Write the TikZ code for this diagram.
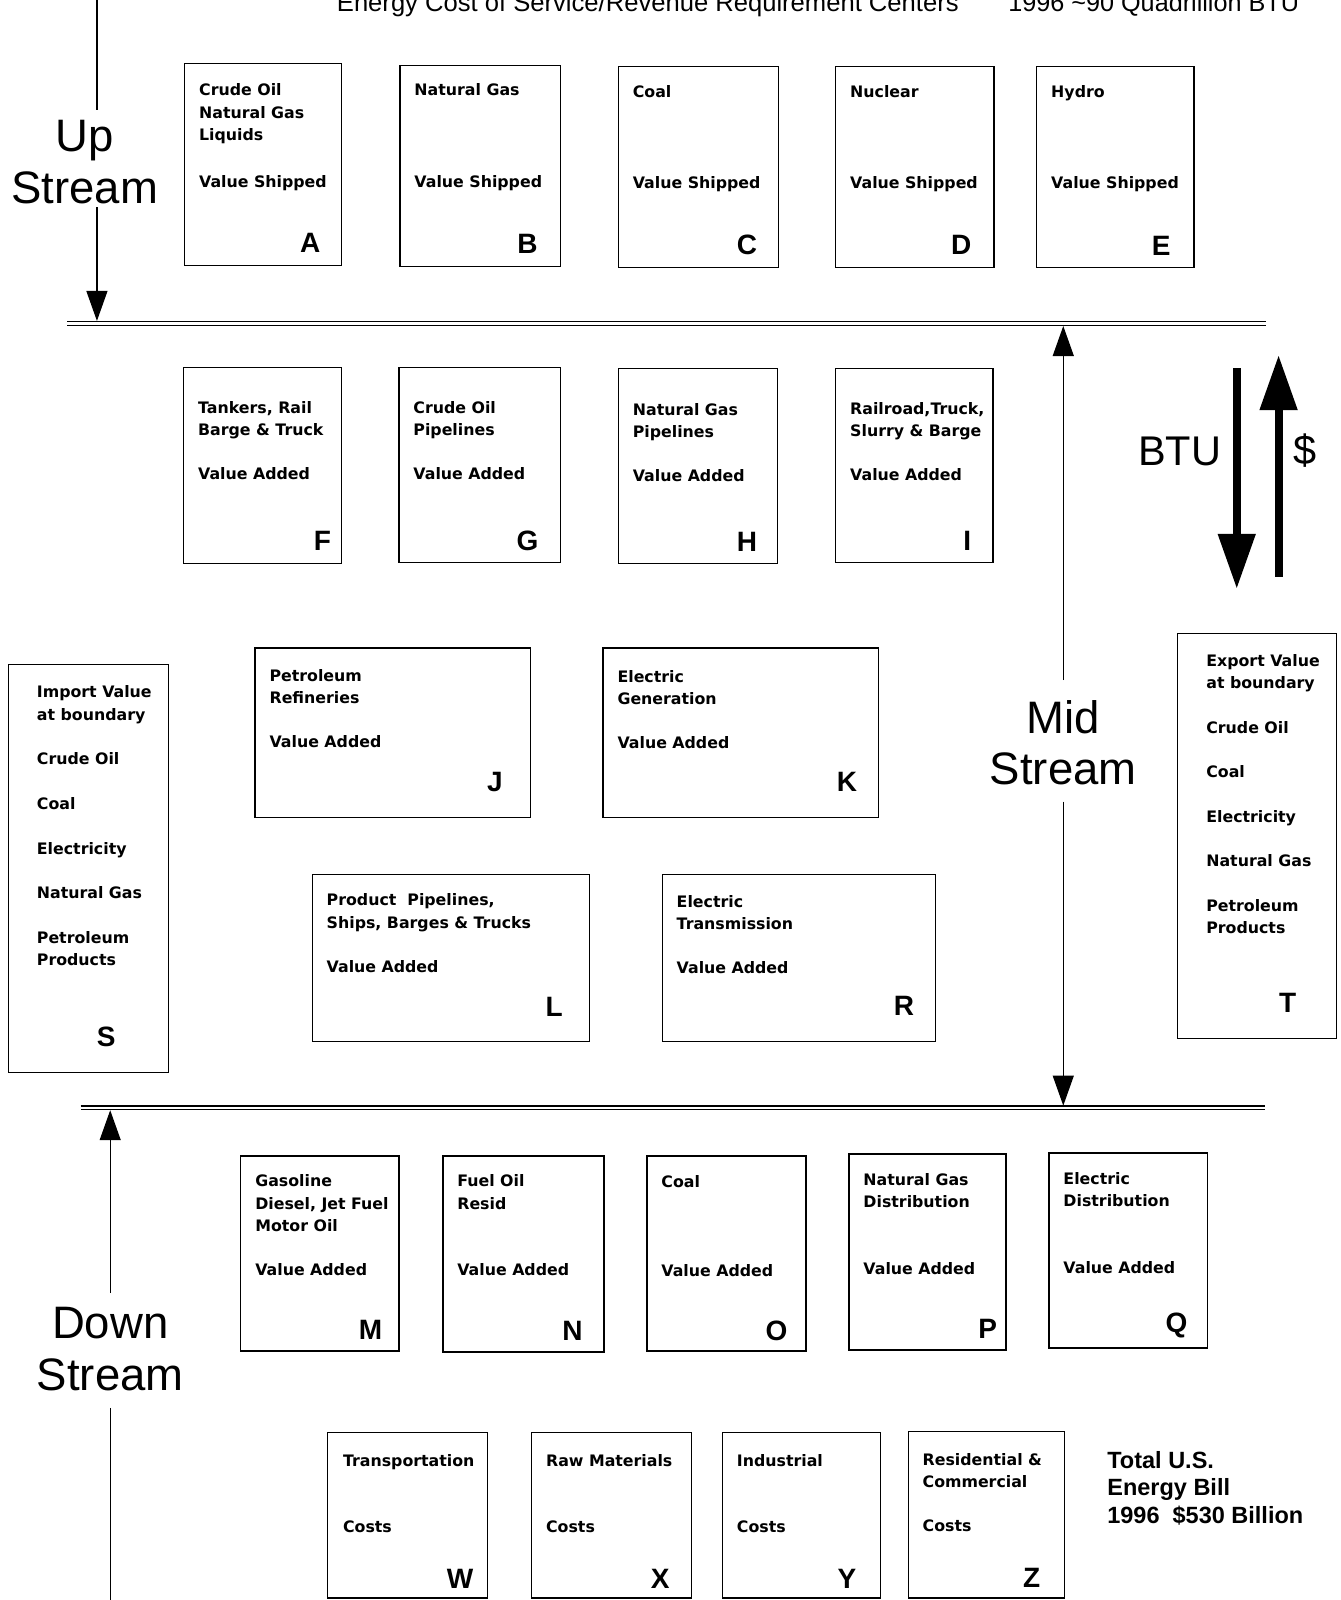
\documentclass[tikz,border=0pt]{standalone}
\usepackage{fontspec}
\setmainfont{DejaVu Sans}
\newfontfamily\arialf{Liberation Sans}
\usetikzlibrary{arrows.meta}
\newcommand\bbox[5]{\node[bx,minimum width={(#4-#2)*1.0205pt},minimum height={(#5-#3)*1.0205pt}] (#1) at ({(#2+#4)/2},{(#3+#5)/2}) {};}
\newcommand\ttl[4]{\node[tt] (#1) at (#2,{#3-6.1}) {#4};}
\newcommand\val[4]{\node[vt] (#1) at (#2,{#3+5.6}) {#4};}
\newcommand\lett[3]{\node[lt] (l#1) at (#2,#3) {#1};}
\begin{document}
\begin{tikzpicture}[x=1.0205pt,y=-1.0205pt,
 bx/.style={draw,line width=1.3pt,inner sep=0pt,outer sep=0pt},
 tt/.style={font=\fontsize{15.8}{22.4}\selectfont\bfseries,align=left,inner sep=0pt,anchor=north west},
 vt/.style={font=\fontsize{15.8}{22.4}\selectfont\bfseries,inner sep=0pt,anchor=base west},
 lt/.style={font=\arialf\bfseries\fontsize{28}{30}\selectfont,inner sep=0pt},
 big/.style={font=\arialf\fontsize{45.5}{51.5}\selectfont,align=center,inner sep=0pt},
 ln/.style={line width=1.2pt},
 arr/.style={line width=1.2pt,-{Triangle[length=30pt,width=21pt]}},
 fat/.style={line width=8pt,-{Triangle[length=55pt,width=36pt]}},
 dbl/.style={double,double distance=2.2pt,line width=1.2pt}]
\useasboundingbox (0,0) rectangle (1314,1568);
\clip (0,0) rectangle (1314,1568);
\fill[white] (0,0) rectangle (1314,1568);

% header (cut by the top edge, as in the reference)
\node[font=\arialf\fontsize{25.6}{30}\selectfont,anchor=base west,inner sep=0pt] (hdr1) at (330,10.8) {Energy Cost of Service/Revenue Requirement Centers};
\node[font=\arialf\fontsize{25.2}{30}\selectfont,anchor=base west,inner sep=0pt] (hdr2) at (988,10.8) {1996 \textasciitilde90 Quadrillion BTU};

% stream labels
\node[big] (up) at (83,159) {Up\\Stream};
\node[big] (mid) at (1042,728) {Mid\\Stream};
\node[big] (down) at (108,1322) {Down\\Stream};

% horizontal double lines
\coordinate (tl0) at (66,317); \coordinate (tl1) at (1241,317);
\coordinate (bl0) at (79,1085.5); \coordinate (bl1) at (1240,1085.5);
\draw[dbl] (tl0) -- (tl1);
\draw[dbl] (bl0) -- (bl1);

% stream arrows
\coordinate (us0) at (95,-5); \coordinate (us1) at (95,314.5);
\draw[ln,shorten >=10pt] (us0) -- (us0 |- up.north);
\draw[arr,shorten <=3pt] (us0 |- up.south) -- (us1);
\coordinate (ms0) at (1042,319.5); \coordinate (ms1) at (1042,1083.5);
\draw[arr,shorten <=20pt] (ms0 |- mid.north) -- (ms0);
\draw[arr,shorten <=16pt] (ms0 |- mid.south) -- (ms1);
\coordinate (ds0) at (108,1580); \coordinate (ds1) at (108,1088);
\draw[arr,shorten <=14pt] (ds0 |- down.north) -- (ds1);
\draw[ln,shorten <=17pt] (ds0 |- down.south) -- (ds0);

% BTU / $ arrows
\coordinate (bt0) at (1212,361); \coordinate (bt1) at (1212,577);
\coordinate (dl0) at (1253,565); \coordinate (dl1) at (1253,348);
\draw[fat] (bt0) -- (bt1);
\draw[fat] (dl0) -- (dl1);
\node[font=\arialf\fontsize{41.5}{42}\selectfont,inner sep=0pt] (btu) at (1156,442) {BTU};
\node[font=\arialf\fontsize{41.5}{42}\selectfont,inner sep=0pt] (dol) at (1279,442) {\$};

% Row 1
\bbox{bA}{181}{62}{335}{260} \ttl{tA}{195}{88}{Crude Oil\\Natural Gas\\Liquids} \val{vA}{195}{178}{Value Shipped} \lett{A}{304}{238}
\bbox{bB}{392}{64}{549}{261} \ttl{tB}{406}{88}{Natural Gas} \val{vB}{406}{178}{Value Shipped} \lett{B}{517}{239}
\bbox{bC}{606}{65}{763}{262} \ttl{tC}{620}{90}{Coal} \val{vC}{620}{179}{Value Shipped} \lett{C}{732}{240}
\bbox{bD}{819}{65}{974}{262} \ttl{tD}{833}{90}{Nuclear} \val{vD}{833}{179}{Value Shipped} \lett{D}{942}{240}
\bbox{bE}{1016}{65}{1170}{262} \ttl{tE}{1030}{90}{Hydro} \val{vE}{1030}{179}{Value Shipped} \lett{E}{1138}{241}

% Row 2
\bbox{bF}{180}{360}{335}{552} \ttl{tF}{194}{399}{Tankers, Rail\\Barge \& Truck} \val{vF}{194}{464}{Value Added} \lett{F}{316}{530}
\bbox{bG}{391}{360}{549}{551} \ttl{tG}{405}{399}{Crude Oil\\Pipelines} \val{vG}{405}{464}{Value Added} \lett{G}{517}{530}
\bbox{bH}{606}{361}{762}{552} \ttl{tH}{620}{401}{Natural Gas\\Pipelines} \val{vH}{620}{466}{Value Added} \lett{H}{732}{531}
\bbox{bI}{819}{361}{973}{551} \ttl{tI}{833}{400}{Railroad,Truck,\\Slurry \& Barge} \val{vI}{833}{465}{Value Added} \lett{I}{948}{530}

% Row 3
\bbox{bJ}{250}{635}{520}{801} \ttl{tJ}{264}{662}{Petroleum\\Refineries} \val{vJ}{264}{727}{Value Added} \lett{J}{485}{766}
\bbox{bK}{591}{635}{861}{801} \ttl{tK}{605}{663}{Electric\\Generation} \val{vK}{605}{728}{Value Added} \lett{K}{830}{766}
\bbox{bS}{8}{651}{165}{1051} \ttl{tS}{36}{678}{Import Value\\at boundary\\[22.2pt]Crude Oil\\[22.2pt]Coal\\[22.2pt]Electricity\\[22.2pt]Natural Gas\\[22.2pt]Petroleum\\Products} \lett{S}{104}{1016}
\bbox{bT}{1154}{621}{1310}{1018} \ttl{tT}{1182}{647}{Export Value\\at boundary\\[22.2pt]Crude Oil\\[22.2pt]Coal\\[22.2pt]Electricity\\[22.2pt]Natural Gas\\[22.2pt]Petroleum\\Products} \lett{T}{1262}{983}

% Row 4
\bbox{bL}{306}{857}{578}{1021} \ttl{tL}{320}{882}{Product\ \ Pipelines,\\Ships, Barges \& Trucks} \val{vL}{320}{947}{Value Added} \lett{L}{543}{987}
\bbox{bR}{649}{857}{917}{1021} \ttl{tR}{663}{883}{Electric\\Transmission} \val{vR}{663}{948}{Value Added} \lett{R}{886}{986}

% Row 5
\bbox{bM}{236}{1133}{391}{1324} \ttl{tM}{250}{1157}{Gasoline\\Diesel, Jet Fuel\\Motor Oil} \val{vM}{250}{1244}{Value Added} \lett{M}{363}{1303}
\bbox{bN}{434}{1133}{592}{1325} \ttl{tN}{448}{1157}{Fuel Oil\\Resid} \val{vN}{448}{1244}{Value Added} \lett{N}{561}{1304}
\bbox{bO}{634}{1133}{790}{1324} \ttl{tO}{648}{1158}{Coal} \val{vO}{648}{1245}{Value Added} \lett{O}{761}{1304}
\bbox{bP}{832}{1131}{986}{1323} \ttl{tP}{846}{1156}{Natural Gas\\Distribution} \val{vP}{846}{1243}{Value Added} \lett{P}{968}{1302}
\bbox{bQ}{1028}{1130}{1183}{1321} \ttl{tQ}{1042}{1155}{Electric\\Distribution} \val{vQ}{1042}{1242}{Value Added} \lett{Q}{1153}{1299}

% Row 6
\bbox{bW}{321}{1404}{478}{1566} \ttl{tW}{336}{1431}{Transportation} \val{vW}{336}{1496}{Costs} \lett{W}{451}{1547}
\bbox{bX}{521}{1404}{678}{1566} \ttl{tX}{535}{1431}{Raw Materials} \val{vX}{535}{1496}{Costs} \lett{X}{647}{1547}
\bbox{bY}{708}{1404}{863}{1566} \ttl{tY}{722}{1431}{Industrial} \val{vY}{722}{1496}{Costs} \lett{Y}{830}{1547}
\bbox{bZ}{890}{1403}{1043}{1566} \ttl{tZ}{904}{1430}{Residential \&\\Commercial} \val{vZ}{904}{1495}{Costs} \lett{Z}{1011}{1546}

% total
\node[font=\arialf\bfseries\fontsize{23.5}{27.5}\selectfont,align=left,anchor=north west,inner sep=0pt] (total) at (1085,1421.8) {Total U.S.\\Energy Bill\\1996\ \ \$530 Billion};
\end{tikzpicture}
\end{document}
